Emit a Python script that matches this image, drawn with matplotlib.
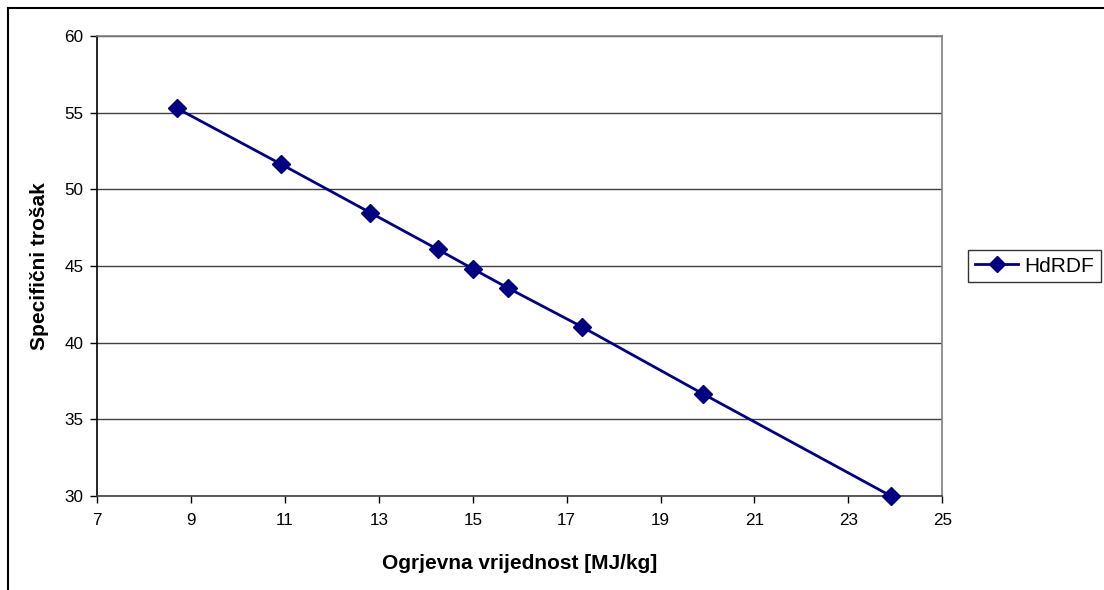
import matplotlib
matplotlib.use("Agg")
import matplotlib.pyplot as plt
from matplotlib.lines import Line2D

# vrijednosti ocitane s grafa
ogrjevna = [8.70, 10.91, 12.82, 14.25, 15.00, 15.74, 17.32, 19.91, 23.90]
trosak = [55.28, 51.65, 48.47, 46.09, 44.82, 43.58, 41.04, 36.65, 30.01]
x_ticks = [7, 9, 11, 13, 15, 17, 19, 21, 23, 25]
y_ticks = [30, 35, 40, 45, 50, 55, 60]

plt.rcParams["font.family"] = ["Liberation Sans", "DejaVu Sans"]

fig = plt.figure(figsize=(11.04, 5.9), dpi=100)
ax = fig.add_axes([0.0881, 0.1593, 0.7654, 0.7797])

ax.plot(ogrjevna, trosak, color="#000080", lw=2, marker="D", ms=9,
        label="HdRDF", clip_on=False, zorder=3)

ax.set_xlim(7, 25)
ax.set_ylim(30, 60)
ax.set_xticks(x_ticks)
ax.set_yticks(y_ticks)
ax.tick_params(labelsize=12.3, length=5, width=1, color="black", pad=5)
ax.tick_params(axis="x", pad=7)
ax.yaxis.grid(True, color="#404040", lw=1)
ax.set_axisbelow(True)

ax.spines["left"].set_color("black")
ax.spines["bottom"].set_color("#404040")
ax.spines["top"].set_color("#808080")
ax.spines["right"].set_color("#808080")
for s in ax.spines.values():
    s.set_linewidth(1.2)

ax.set_xlabel("Ogrjevna vrijednost [MJ/kg]", fontsize=15, fontweight="bold", labelpad=19)
ax.set_ylabel("Specifični trošak", fontsize=15, fontweight="bold", labelpad=11)

leg = ax.legend(loc="center left", bbox_to_anchor=(1.031, 0.5), fontsize=15,
                frameon=True, fancybox=False, edgecolor="black", borderpad=0.3,
                borderaxespad=0, handlelength=2.1, handletextpad=0.3, markerscale=0.9)
leg.get_frame().set_linewidth(1)

# okvir grafa (lijevo i gore)
fig.add_artist(Line2D([7.5 / 1104, 7.5 / 1104], [0, 1 - 7.5 / 590], color="black", lw=1.5))
fig.add_artist(Line2D([7.5 / 1104, 1], [1 - 7.5 / 590, 1 - 7.5 / 590], color="black", lw=1.5))

fig.savefig("out.png", dpi=100)
